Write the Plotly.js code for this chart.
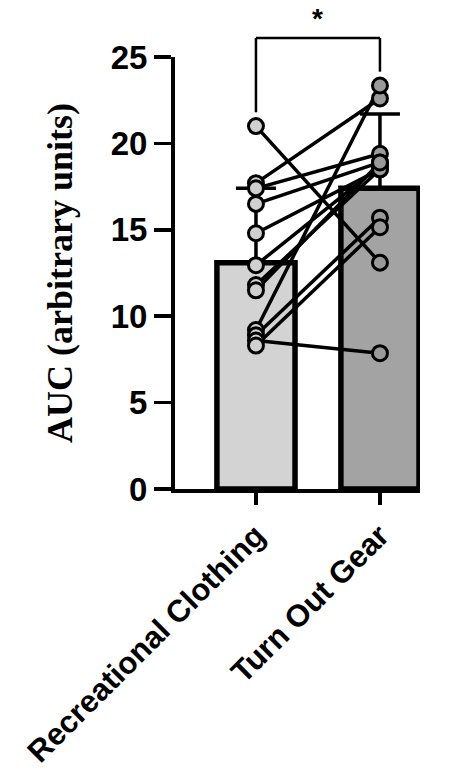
<!DOCTYPE html>
<html>
<head>
<meta charset="utf-8">
<script src="https://cdn.plot.ly/plotly-3.0.1.min.js"></script>
<style>html,body{margin:0;padding:0;background:#fff;}#chart{width:458px;height:774px;}</style>
</head>
<body>
<div id="chart"></div>
<script>
var categories = ["Recreational Clothing", "Turn Out Gear"];
var barMeans = [13.1, 17.4];
var barSD = [4.3, 4.3];
var recreational = [21.0, 17.7, 17.4, 16.5, 14.8, 12.95, 11.8, 11.5, 9.2, 8.9, 8.6, 8.3];
var turnOut =      [13.1, 22.6, 19.4, 18.9, 18.5, 18.7, 18.5, 18.9, 23.35, 15.7, 7.86, 15.15];
var yTicks = [0, 5, 10, 15, 20, 25];

var yMax = 25;
var lx = [], ly = [];
for (var i = 0; i < recreational.length; i++) {
  lx.push(categories[0], categories[1], null);
  ly.push(recreational[i], turnOut[i], null);
}

var traces = [
  {
    type: 'bar', x: categories, y: barMeans, width: 0.63,
    marker: {color: ['#d3d3d3', '#a3a3a3'], line: {color: '#000', width: 5.5}},
    error_y: {type: 'data', symmetric: false, array: barSD, arrayminus: [0, 0],
              color: '#000', thickness: 3.5, width: 20},
    hoverinfo: 'skip', showlegend: false
  },
  {
    type: 'scatter', mode: 'lines', x: lx, y: ly, connectgaps: false,
    line: {color: '#000', width: 3.5}, hoverinfo: 'skip', showlegend: false, cliponaxis: false
  },
  {
    type: 'scatter', mode: 'markers', x: recreational.map(function(){return categories[0];}), y: recreational,
    marker: {size: 15, color: '#d0d0d0', line: {color: '#000', width: 3}},
    showlegend: false, cliponaxis: false
  },
  {
    type: 'scatter', mode: 'markers', x: turnOut.map(function(){return categories[1];}), y: turnOut,
    marker: {size: 15, color: '#9a9a9a', line: {color: '#000', width: 3}},
    showlegend: false, cliponaxis: false
  }
];

var maxL = Math.max.apply(null, recreational);
var maxR = Math.max.apply(null, turnOut);
var topY = 26.1 / yMax;
var shapes = [
  {type: 'line', xref: 'x', yref: 'paper', x0: 0, x1: 0, y0: (maxL + 0.8) / yMax, y1: topY, line: {color: '#000', width: 2.5}},
  {type: 'line', xref: 'x', yref: 'paper', x0: 1, x1: 1, y0: (maxR + 0.8) / yMax, y1: topY, line: {color: '#000', width: 2.5}},
  {type: 'line', xref: 'x', yref: 'paper', x0: 0, x1: 1, y0: topY, y1: topY, line: {color: '#000', width: 2.5}}
];

var layout = {
  width: 458, height: 774,
  margin: {l: 175, r: 38, t: 57, b: 285},
  paper_bgcolor: '#fff', plot_bgcolor: '#fff',
  showlegend: false,
  bargap: 0,
  xaxis: {
    type: 'category', range: [-0.653, 1.323],
    showline: true, linecolor: '#000', linewidth: 4,
    ticks: 'outside', ticklen: 12, tickwidth: 3.5, tickcolor: '#000',
    tickangle: -45,
    tickfont: {family: 'Liberation Sans, Arial, sans-serif', size: 31, color: '#000', weight: 'bold'},
    showgrid: false, zeroline: false
  },
  yaxis: {
    range: [0, yMax], tickvals: yTicks, ticktext: yTicks.map(String),
    showline: true, linecolor: '#000', linewidth: 4,
    ticks: 'outside', ticklen: 17, tickwidth: 3.5, tickcolor: '#000',
    tickfont: {family: 'Liberation Sans, Arial, sans-serif', size: 33, color: '#000', weight: 'bold'},
    showgrid: false, zeroline: false,
    title: {text: 'AUC (arbitrary units)', standoff: 28,
            font: {family: 'Liberation Serif, Times New Roman, serif', size: 36, color: '#000', weight: 'bold'}}
  },
  shapes: shapes,
  annotations: [
    {xref: 'x', yref: 'paper', x: 0.5, y: topY, yanchor: 'bottom', yshift: 2, text: '*', showarrow: false,
     font: {family: 'Liberation Sans, Arial, sans-serif', size: 28, color: '#000', weight: 'bold'}}
  ]
};

Plotly.newPlot('chart', traces, layout, {displayModeBar: false, staticPlot: true});
</script>
</body>
</html>
